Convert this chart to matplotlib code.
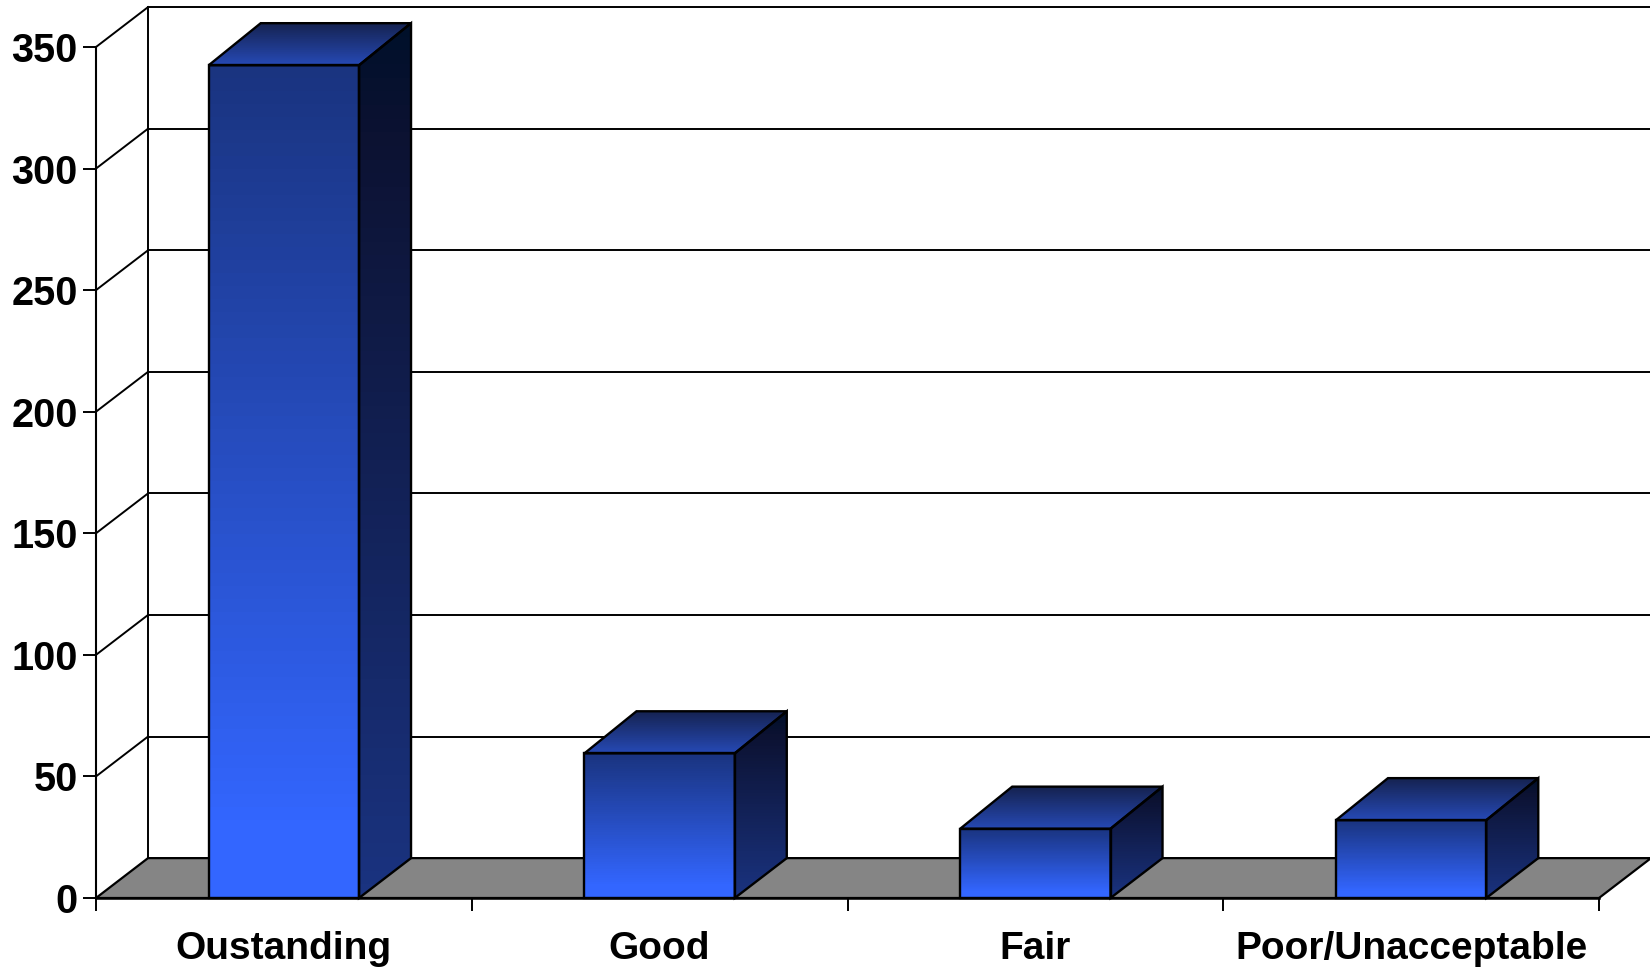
import numpy as np
import matplotlib
matplotlib.use('Agg')
import matplotlib.pyplot as plt
from matplotlib.colors import LinearSegmentedColormap
from matplotlib.patches import Polygon

plt.rcParams['font.family'] = ['Liberation Sans', 'DejaVu Sans']

categories = ['Oustanding', 'Good', 'Fair', 'Poor/Unacceptable']
values = [342.5, 59.5, 28.5, 32]
y_ticks = [0, 50, 100, 150, 200, 250, 300, 350]

# depth of the fake 3d box, in data units
depth_x = 0.1384
depth_y = 16.4
top_rise = 17.3
bar_width = 0.4

front_cmap = LinearSegmentedColormap.from_list('front', [(0, '#1a3480'), (0.92, '#3366ff'), (1, '#3366ff')])
top_cmap = LinearSegmentedColormap.from_list('top', ['#15224f', '#2649b4'])
side_cmap = LinearSegmentedColormap.from_list('side', [(0, '#00102a'), (0.12, '#0c1232'), (1, '#1a3380')])


def gradient_face(ax, pts, cmap, y_low, y_high):
    # vertical gradient clipped to the face outline
    poly = Polygon(pts, closed=True, facecolor='none', edgecolor='black', lw=1.7, zorder=5,
                   joinstyle='miter', clip_on=False)
    ax.add_patch(poly)
    xs = [p[0] for p in pts]
    grad = np.linspace(0, 1, 64)[:, None]
    im = ax.imshow(grad, cmap=cmap, extent=(min(xs), max(xs), y_low, y_high),
                   origin='upper', aspect='auto', zorder=4, interpolation='nearest')
    im.set_clip_box(ax.figure.bbox)
    im.set_clip_path(poly)


fig = plt.figure(figsize=(16.5, 9.68), dpi=100)
ax = fig.add_axes([96 / 1650, (968 - 898) / 968, (1599 - 96) / 1650, 851 / 968])

n = len(categories)

# floor
ax.add_patch(Polygon([(0, 0), (n, 0), (n + depth_x, depth_y), (depth_x, depth_y)], closed=True,
                     facecolor='#858585', edgecolor='black', lw=1.6, zorder=1, clip_on=False))

# back wall and side wall lines
for v in y_ticks[1:]:
    ax.plot([depth_x, n + depth_x], [v + depth_y, v + depth_y], color='black', lw=1.4, zorder=2, clip_on=False)
    ax.plot([0, depth_x], [v, v + depth_y], color='black', lw=1.4, zorder=2, clip_on=False)
ax.plot([depth_x, depth_x], [depth_y, 350 + depth_y], color='black', lw=1.4, zorder=2, clip_on=False)

for i, v in enumerate(values):
    x0 = i + 0.5 - bar_width / 2
    x1 = i + 0.5 + bar_width / 2
    gradient_face(ax, [(x0, 0), (x1, 0), (x1, v), (x0, v)], front_cmap, 0, v)
    gradient_face(ax, [(x0, v), (x1, v), (x1 + depth_x, v + top_rise), (x0 + depth_x, v + top_rise)],
                  top_cmap, v, v + top_rise)
    gradient_face(ax, [(x1, 0), (x1 + depth_x, depth_y), (x1 + depth_x, v + top_rise), (x1, v)],
                  side_cmap, 0, v + top_rise)

ax.set_xlim(0, n)
ax.set_ylim(0, 350)
ax.patch.set_visible(False)
for side in ['top', 'right']:
    ax.spines[side].set_visible(False)
ax.spines['left'].set_linewidth(1.5)
ax.spines['bottom'].set_linewidth(1.8)
ax.spines['left'].set_zorder(6)
ax.spines['bottom'].set_zorder(6)

ax.set_yticks(y_ticks)
ax.set_yticklabels([str(t) for t in y_ticks], fontsize=28.5, fontweight='bold')
ax.tick_params(axis='y', length=9.2, width=1.4, pad=4)
ax.set_xticks(range(n + 1))
ax.set_xticklabels([])
ax.tick_params(axis='x', which='major', length=9.2, width=1.4)
ax.set_xticks([i + 0.5 for i in range(n)], minor=True)
ax.set_xticklabels(categories, minor=True, fontsize=28, fontweight='bold')
ax.tick_params(axis='x', which='minor', length=0, pad=24)

fig.savefig('out.png', dpi=100)
